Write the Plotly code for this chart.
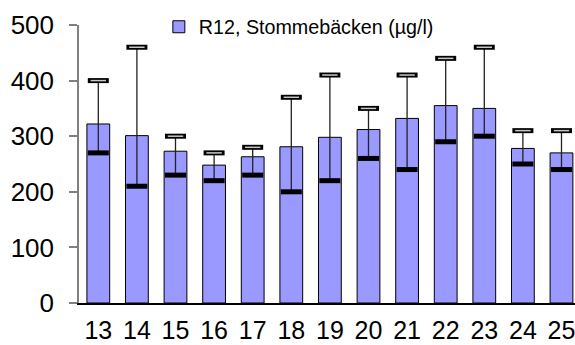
import plotly.graph_objects as go

# Sampling weeks and measured concentrations (µg/l)
weeks = ["13", "14", "15", "16", "17", "18", "19", "20", "21", "22", "23", "24", "25"]
mean_vals = [322, 301, 273, 248, 263, 281, 298, 312, 332, 355, 350, 278, 270]
max_vals = [400, 460, 300, 270, 280, 370, 410, 350, 410, 440, 460, 310, 310]
min_vals = [270, 210, 230, 220, 230, 200, 220, 260, 240, 290, 300, 250, 240]
y_ticks = [0, 100, 200, 300, 400, 500]

series_name = "R12, Stommebäcken (µg/l)"
font_family = "Liberation Sans, Arial, sans-serif"

err_plus = [mx - m for mx, m in zip(max_vals, mean_vals)]
err_minus = [m - mn for m, mn in zip(mean_vals, min_vals)]

fig = go.Figure()

# Mean bars with a thin range line from minimum to maximum
fig.add_trace(go.Bar(
    x=weeks, y=mean_vals, name=series_name,
    marker=dict(color="#9999FF", line=dict(color="#000000", width=1)),
    error_y=dict(type="data", symmetric=False, array=err_plus, arrayminus=err_minus,
                 color="#222222", thickness=1.3, width=0),
    showlegend=True,
))

# Maximum caps: black outline with a light centre
fig.add_trace(go.Scatter(
    x=weeks, y=max_vals, mode="markers", showlegend=False, hoverinfo="skip",
    marker=dict(symbol="line-ew", size=15, line=dict(color="#000000", width=5)),
))
fig.add_trace(go.Scatter(
    x=weeks, y=max_vals, mode="markers", showlegend=False, hoverinfo="skip",
    marker=dict(symbol="line-ew", size=11, line=dict(color="#C8C8C8", width=1.5)),
))

# Minimum marks: solid thick dash
fig.add_trace(go.Scatter(
    x=weeks, y=min_vals, mode="markers", showlegend=False, hoverinfo="skip",
    marker=dict(symbol="line-ew", size=15, line=dict(color="#000000", width=5)),
))

fig.update_layout(
    width=575, height=345,
    margin=dict(l=79, r=0, t=25, b=42),
    paper_bgcolor="white", plot_bgcolor="white",
    font=dict(family=font_family, color="#000000"),
    bargap=0.41,
    legend=dict(
        x=0.161, y=0.993, xanchor="left", yanchor="middle",
        bgcolor="rgba(0,0,0,0)", font=dict(size=19.7, family=font_family),
    ),
    xaxis=dict(
        type="category", range=[-0.5, 12.35], automargin=False,
        showline=True, linecolor="#000000", linewidth=1.5,
        ticks="outside", ticklen=4, tickcolor="rgba(0,0,0,0)",
        tickfont=dict(size=25, family=font_family),
        showgrid=False, zeroline=False, fixedrange=True,
    ),
    yaxis=dict(
        range=[0, 500], tickvals=y_ticks, automargin=False,
        showline=True, linecolor="#808080", linewidth=1.5,
        ticks="outside", ticklen=8, tickcolor="#808080", tickwidth=1.5,
        ticklabelstandoff=10,
        tickfont=dict(size=26, family=font_family),
        showgrid=False, zeroline=False, fixedrange=True,
    ),
)

fig.write_html("out.html")
